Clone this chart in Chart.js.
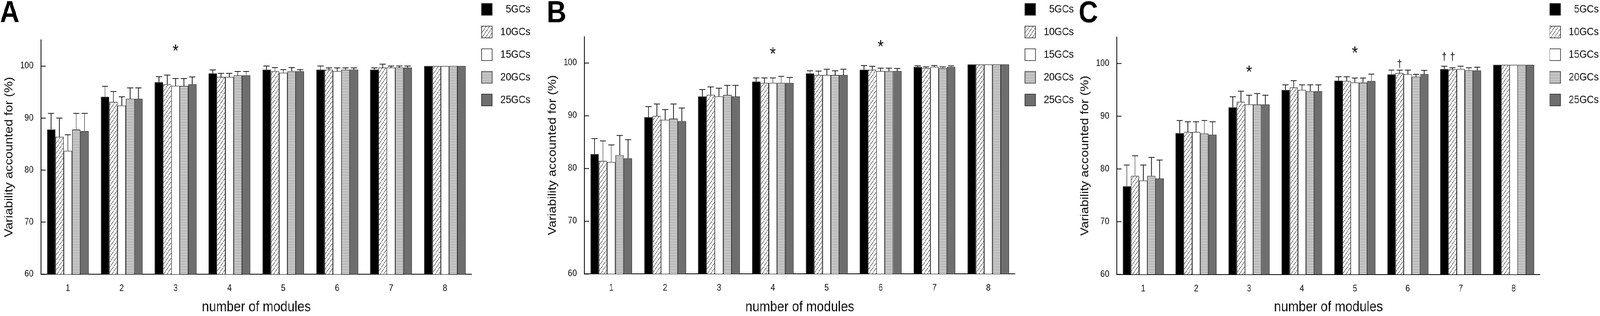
<!DOCTYPE html>
<html>
<head>
<meta charset="utf-8">
<script src="https://cdn.jsdelivr.net/npm/chart.js@4.4.1/dist/chart.umd.min.js"></script>
<style>
  html, body { margin: 0; padding: 0; background: #fff; overflow: hidden; }
  #stage { position: absolute; left: 0; top: 0; width: 4652px; height: 809px; overflow: hidden; transform-origin: 0 0; background: #fff; }
  #stage canvas { position: absolute; top: -19px; }
</style>
</head>
<body>
<div id="stage">
<canvas id="cA" width="1550" height="828" style="left:0px;width:1550px;height:828px"></canvas>
<canvas id="cB" width="1550" height="828" style="left:1580px;width:1550px;height:828px"></canvas>
<canvas id="cC" width="1524" height="828" style="left:3128px;width:1524px;height:828px"></canvas>
</div>
<script>
// map the 4652x809 design onto the actual viewport
(function () {
  const sx = window.innerWidth / 4652;
  const sy = window.innerHeight / 809;
  document.getElementById('stage').style.transform = 'scale(' + sx + ',' + sy + ')';
})();

// ---------------- DATA ----------------
const categories = ['1', '2', '3', '4', '5', '6', '7', '8'];
const seriesLabels = ['5GCs', '10GCs', '15GCs', '20GCs', '25GCs'];
const yTickValues = [60, 70, 80, 90, 100];
const panelLetters = ['A', 'B', 'C'];
const xTitle = 'number of modules';
const yTitle = 'Variability accounted for (%)';

// Panel A : mean values (rows = series 5,10,15,20,25 GCs ; columns = modules 1..8)
const meansA = [
  [87.8, 94.1, 96.9, 98.6, 99.3, 99.3, 99.3, 100],
  [86.4, 93.1, 96.5, 97.9, 99.0, 99.3, 99.7, 100],
  [83.7, 92.4, 96.2, 97.9, 98.7, 99.0, 99.7, 100],
  [87.8, 93.7, 96.2, 98.2, 99.0, 99.3, 99.7, 100],
  [87.5, 93.7, 96.5, 98.2, 99.0, 99.3, 99.7, 100]
];
const errorsA = [
  [3.1, 2.0, 1.05, 0.65, 0.7, 0.7, 0.35, 0],
  [3.6, 2.0, 1.75, 0.7, 0.7, 0.35, 0.65, 0],
  [3.1, 1.7, 1.4, 0.7, 0.6, 0.65, 0.3, 0],
  [3.1, 2.1, 1.4, 0.75, 0.7, 0.35, 0.3, 0],
  [3.4, 2.1, 1.4, 0.76, 0.3, 0.35, 0.3, 0]
];
// Panel B
const meansB = [
  [82.7, 89.7, 93.65, 96.45, 98.0, 98.7, 99.25, 99.7],
  [81.4, 89.95, 93.95, 96.2, 97.7, 98.7, 99.0, 99.7],
  [81.2, 89.2, 93.65, 96.2, 97.7, 98.45, 99.25, 99.7],
  [82.5, 89.45, 93.95, 96.2, 97.7, 98.45, 99.0, 99.7],
  [81.9, 88.95, 93.65, 96.2, 97.7, 98.45, 99.25, 99.7]
];
const errorsB = [
  [2.95, 2.0, 1.3, 0.7, 0.5, 0.8, 0.2, 0],
  [3.8, 2.25, 1.5, 0.95, 0.75, 0.65, 0.25, 0],
  [3.25, 1.95, 1.55, 0.95, 1.1, 0.55, 0.25, 0],
  [3.75, 2.75, 1.8, 1.25, 0.8, 0.55, 0.25, 0],
  [3.55, 2.5, 2.1, 1.05, 1.1, 0.5, 0.2, 0]
];
// Panel C
const meansC = [
  [76.7, 86.8, 91.7, 95.0, 96.75, 97.95, 98.95, 99.75],
  [78.7, 87.0, 92.75, 95.45, 96.7, 98.2, 98.9, 99.75],
  [77.8, 87.0, 92.25, 95.0, 96.4, 98.0, 98.95, 99.75],
  [78.7, 86.75, 92.25, 94.75, 96.4, 97.5, 98.7, 99.75],
  [78.2, 86.5, 92.25, 94.75, 96.7, 98.0, 98.7, 99.75]
];
const errorsC = [
  [4.05, 2.4, 2.0, 0.95, 0.75, 0.8, 0.55, 0],
  [3.8, 1.95, 2.0, 1.3, 0.8, 0.55, 0.3, 0],
  [2.95, 1.95, 1.75, 0.95, 0.85, 0.75, 0.55, 0],
  [3.5, 2.45, 2.05, 1.2, 0.85, 0.45, 0.5, 0],
  [3.5, 2.45, 1.75, 1.2, 1.3, 0.7, 0.6, 0]
];
// significance marks: category, series (-1 = group centre), value on y axis, symbol
const marksA = [{ cat: 2, series: -1, value: 103.5, mark: '*' }];
const marksB = [
  { cat: 3, series: -1, value: 102.3, mark: '*' },
  { cat: 5, series: -1, value: 103.7, mark: '*' }
];
const marksC = [
  { cat: 2, series: -1, value: 99.0, mark: '*' },
  { cat: 4, series: -1, value: 102.6, mark: '*' },
  { cat: 5, series: 1, value: 100.0, mark: '\u2020' },
  { cat: 6, series: 0, value: 101.3, mark: '\u2020' },
  { cat: 6, series: 1, value: 101.3, mark: '\u2020' }
];

// ---------------- STYLE ----------------
const FONT = "'Liberation Sans', Arial, Helvetica, sans-serif";
Chart.defaults.font.family = FONT;
Chart.defaults.color = '#111';

function makeHatch(ctx) {
  const c = document.createElement('canvas');
  const w = 10, h = 13;
  c.width = w; c.height = h;
  const g = c.getContext('2d');
  g.fillStyle = '#fff'; g.fillRect(0, 0, w, h);
  g.strokeStyle = '#2a2a2a'; g.lineWidth = 1.1;
  g.beginPath();
  g.moveTo(0, h); g.lineTo(w, 0);
  g.moveTo(-w, h); g.lineTo(0, 0);
  g.moveTo(w, h); g.lineTo(2 * w, 0);
  g.stroke();
  return ctx.createPattern(c, 'repeat');
}
function makeStripes(ctx) {
  const c = document.createElement('canvas');
  c.width = 4; c.height = 4;
  const g = c.getContext('2d');
  g.fillStyle = '#f2f2f2'; g.fillRect(0, 0, 4, 4);
  g.fillStyle = '#5e5e5e'; g.fillRect(0, 0, 4, 1);
  g.fillStyle = '#bdbdbd'; g.fillRect(0, 1, 4, 1);
  return ctx.createPattern(c, 'repeat');
}

const errorAndMarksPlugin = {
  id: 'errorAndMarks',
  afterDatasetsDraw(chart, args, opts) {
    const ctx = chart.ctx;
    const ys = chart.scales.y, xs = chart.scales.x;
    ctx.save();
    ctx.strokeStyle = '#1a1a1a';
    ctx.lineWidth = 2;
    chart.data.datasets.forEach((ds, i) => {
      const meta = chart.getDatasetMeta(i);
      meta.data.forEach((bar, j) => {
        const e = ds.errors[j];
        if (!e) return;
        const top = ys.getPixelForValue(ds.data[j]);
        const tip = ys.getPixelForValue(ds.data[j] + e);
        const half = bar.width * 0.37;
        ctx.beginPath();
        ctx.moveTo(bar.x, top); ctx.lineTo(bar.x, tip);
        ctx.moveTo(bar.x - half, tip); ctx.lineTo(bar.x + half, tip);
        ctx.stroke();
      });
    });
    ctx.fillStyle = '#111';
    ctx.textAlign = 'center';
    ctx.textBaseline = 'alphabetic';
    (opts.marks || []).forEach(m => {
      const x = m.series < 0 ? xs.getPixelForValue(m.cat) : chart.getDatasetMeta(m.series).data[m.cat].x;
      const y = ys.getPixelForValue(m.value);
      ctx.font = (m.mark === '*' ? '46px ' : '27px ') + FONT;
      const tm = ctx.measureText(m.mark);
      const off = (tm.actualBoundingBoxAscent - tm.actualBoundingBoxDescent) / 2;
      ctx.fillText(m.mark, x, y + off);
    });
    ctx.restore();
  }
};

const panels = [
  { id: 'cA', letter: panelLetters[0], means: meansA, errors: errorsA, marks: marksA, top: 102.4, bottom: 702, padRight: 8, padLeft: 0 },
  { id: 'cB', letter: panelLetters[1], means: meansB, errors: errorsB, marks: marksB, top: 93.5, bottom: 701, padRight: 8, padLeft: 10 },
  { id: 'cC', letter: panelLetters[2], means: meansC, errors: errorsC, marks: marksC, top: 95.2, bottom: 702.5, padRight: 4, padLeft: 8 }
];
const DY = 19;      // canvas is shifted 19px up
const CH = 828;     // canvas height
const AXIS_X = 119; // y-axis position inside each canvas

panels.forEach(p => {
  const canvas = document.getElementById(p.id);
  const ctx = canvas.getContext('2d');
  const fills = ['#000000', makeHatch(ctx), '#ffffff', makeStripes(ctx), '#6e6e6e'];
  const chartTop = p.top + DY;
  const chartBottom = p.bottom + DY;
  const titleLH = 78, titlePadTop = 15;
  new Chart(ctx, {
    type: 'bar',
    data: {
      labels: categories,
      datasets: seriesLabels.map((lab, i) => ({
        label: lab,
        data: p.means[i],
        errors: p.errors[i],
        backgroundColor: fills[i],
        borderColor: '#1e1e1e',
        borderWidth: 1.5,
        barPercentage: 1.0,
        categoryPercentage: 0.775
      }))
    },
    options: {
      responsive: false,
      animation: false,
      devicePixelRatio: 1,
      layout: { padding: { left: p.padLeft, right: p.padRight, top: 0, bottom: 0 } },
      plugins: {
        tooltip: { enabled: false },
        title: {
          display: true, text: p.letter, align: 'start', color: '#000',
          font: { family: FONT, size: 78, weight: 'bold', lineHeight: 1 },
          padding: { top: titlePadTop, bottom: chartTop - titleLH - titlePadTop }
        },
        legend: {
          position: 'right', align: 'start',
          labels: {
            boxWidth: 31, boxHeight: 30, padding: 28, color: '#111',
            textAlign: 'right',
            font: { family: FONT, size: 28 }
          }
        },
        errorAndMarks: { marks: p.marks }
      },
      scales: {
        x: {
          type: 'category',
          grid: { display: false, drawTicks: false },
          border: { display: true, color: '#000', width: 2 },
          ticks: { padding: 23, color: '#111', font: { family: FONT, size: 23 }, maxRotation: 0, autoSkip: false },
          title: { display: true, text: xTitle, color: '#111', font: { family: FONT, size: 37 }, padding: { top: 0, bottom: 0 } },
          afterFit(s) { s.height = CH - chartBottom; }
        },
        y: {
          min: 60, max: 105, bounds: 'data',
          afterBuildTicks(s) { s.ticks = yTickValues.map(v => ({ value: v })); },
          grid: { display: true, drawOnChartArea: false, drawTicks: true, tickLength: -14, tickColor: '#000', tickWidth: 2, color: '#000' },
          border: { display: true, color: '#000', width: 2 },
          ticks: { padding: 36, color: '#111', font: { family: FONT, size: 23 } },
          title: { display: true, text: yTitle, color: '#111', font: { family: FONT, size: 33 }, padding: { top: 6.7 - p.padLeft, bottom: 0 } },
          afterFit(s) { s.width = AXIS_X - p.padLeft; }
        }
      }
    },
    plugins: [errorAndMarksPlugin]
  });
});
</script>
</body>
</html>
